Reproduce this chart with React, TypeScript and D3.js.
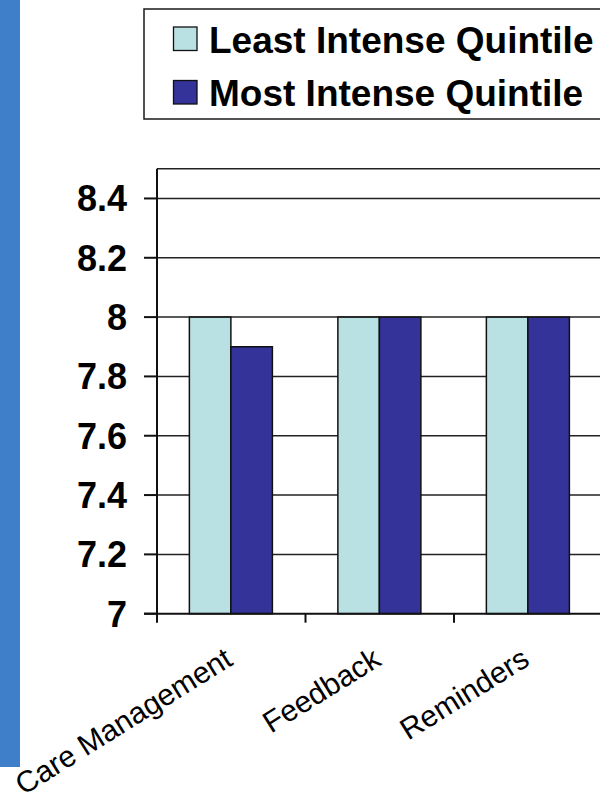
import React from "react";
import * as d3 from "d3";

const categories = ["Care Management", "Feedback", "Reminders"];
const seriesNames = ["Least Intense Quintile", "Most Intense Quintile"];
const leastValues = [8, 8, 8];
const mostValues = [7.9, 8, 8];
const yTicks = [7, 7.2, 7.4, 7.6, 7.8, 8, 8.2, 8.4];
const yTickLabels = ["7", "7.2", "7.4", "7.6", "7.8", "8", "8.2", "8.4"];

const colors = ["#b9e0e3", "#343399"];
const FONT = "Arial, 'Liberation Sans', sans-serif";

export default function App() {
  const plotLeft = 157;
  const plotRight = 602.5;
  const plotTop = 168.8;
  const plotBottom = 613.7;

  const x0 = d3.scaleBand<string>().domain(categories).range([plotLeft, plotRight]).padding(0);
  const bw = x0.bandwidth();
  const x1 = d3.scaleBand<string>().domain(seriesNames).range([bw * 0.218, bw * 0.777]).padding(0);
  const y = d3.scaleLinear().domain([7, 8.5]).range([plotBottom, plotTop]);

  const series = [leastValues, mostValues];

  return (
    <svg width={600} height={800} style={{ position: "absolute", left: 0, top: 0 }} fontFamily={FONT}>
      <rect x={0} y={0} width={600} height={800} fill="#ffffff" />
      {/* left stripe */}
      <rect x={0} y={0} width={20} height={767} fill="#3f7ec8" />

      {/* legend */}
      <rect x={144} y={9} width={470} height={110} fill="#fff" stroke="#1a1a1a" strokeWidth={1.5} />
      {seriesNames.map((s, i) => (
        <g key={s}>
          <rect x={173.5} y={27 + i * 53.5} width={23.5} height={23.5} fill={colors[i]} stroke="#111" strokeWidth={1.3} />
          <text x={209} y={53 + i * 52.5} fontSize={37} fontWeight="bold" fill="#000">{s}</text>
        </g>
      ))}

      {/* gridlines */}
      {yTicks.slice(1).map((t) => (
        <line key={t} x1={plotLeft} x2={plotRight} y1={y(t)} y2={y(t)} stroke="#222" strokeWidth={1.5} />
      ))}
      {/* top frame */}
      <line x1={plotLeft} x2={plotRight} y1={plotTop} y2={plotTop} stroke="#222" strokeWidth={1.5} />

      {/* bars */}
      {categories.map((c, ci) => (
        <g key={c} transform={`translate(${x0(c)},0)`}>
          {seriesNames.map((s, si) => {
            const v = series[si][ci];
            return (
              <rect
                key={s}
                x={x1(s)}
                y={y(v)}
                width={x1.bandwidth()}
                height={y(7) - y(v)}
                fill={colors[si]}
                stroke="#111"
                strokeWidth={1.5}
              />
            );
          })}
        </g>
      ))}

      {/* y axis */}
      <line x1={plotLeft} x2={plotLeft} y1={plotTop} y2={plotBottom + 9} stroke="#111" strokeWidth={2} />
      {yTicks.map((t, i) => (
        <g key={t}>
          <line x1={plotLeft - 13} x2={plotLeft} y1={y(t)} y2={y(t)} stroke="#111" strokeWidth={2} />
          <text x={127} y={y(t)} dy="0.36em" textAnchor="end" fontSize={36} fontWeight="bold" fill="#000">
            {yTickLabels[i]}
          </text>
        </g>
      ))}

      {/* x axis */}
      <line x1={plotLeft - 13} x2={plotRight} y1={plotBottom} y2={plotBottom} stroke="#111" strokeWidth={2} />
      {categories.map((c) => (
        <line key={c} x1={(x0(c) as number) + bw} x2={(x0(c) as number) + bw} y1={plotBottom} y2={plotBottom + 9} stroke="#111" strokeWidth={2} />
      ))}
      {categories.map((c) => {
        const cx = (x0(c) as number) + bw / 2 + 3;
        return (
          <text
            key={c}
            transform={`translate(${cx},664) rotate(-32)`}
            textAnchor="end"
            fontSize={30}
            fill="#000"
          >
            {c}
          </text>
        );
      })}
    </svg>
  );
}
